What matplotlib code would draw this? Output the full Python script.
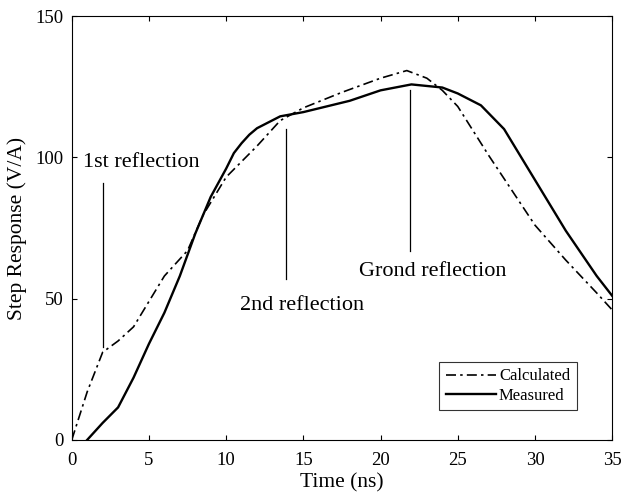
import matplotlib.pyplot as plt

plt.rcParams['font.family'] = ['Liberation Serif', 'DejaVu Serif']

# data
calc_t = [0, 1, 2, 3, 4, 5, 6, 7.5, 8.5, 10, 12, 13.5, 15, 17.5, 20, 21.7, 23, 24, 25, 27, 30, 32, 34, 35]
calc_v = [0, 17, 31, 35, 40, 49, 58, 67, 79.5, 93, 104, 113, 117.5, 123, 128, 130.7, 128, 123.7, 118, 100.7, 76, 63.6, 52, 46]
meas_t = [1, 2, 3, 4, 5, 6, 7, 8, 9, 10, 10.5, 11, 11.5, 12, 13.5, 15, 18, 20, 22, 24, 25, 26.5, 28, 30, 32, 34, 35]
meas_v = [0, 6, 11.5, 22, 34, 45, 58, 73, 86, 96, 101.5, 105, 108, 110.3, 114.5, 116, 120, 123.7, 125.8, 124.7, 122.6, 118.4, 110, 92, 74, 58, 51]

labels = ['1st reflection', '2nd reflection', 'Grond reflection']
mark_x = [2, 13.85, 21.9]
mark_top = [91, 110, 123.7]
mark_bot = [33, 57, 67]
text_xy = [(0.7, 96.5), (10.9, 46), (18.6, 58)]

fig = plt.figure(figsize=(6.24, 5.01), dpi=100)
ax = fig.add_axes([0.115, 0.122, 0.866, 0.846])

ax.plot(calc_t, calc_v, 'k-.', lw=1.2, dashes=(6, 2.5, 1.5, 2.5), label='Calculated')
ax.plot(meas_t, meas_v, 'k-', lw=1.7, label='Measured')

for i in range(len(labels)):
    ax.plot([mark_x[i], mark_x[i]], [mark_bot[i], mark_top[i]], 'k-', lw=0.9)
    ax.text(text_xy[i][0], text_xy[i][1], labels[i], fontsize=16)

ax.set_xlim(0, 35)
ax.set_ylim(0, 150)
ax.set_xticks([0, 5, 10, 15, 20, 25, 30, 35])
ax.set_yticks([0, 50, 100, 150])
ax.tick_params(direction='in', top=True, right=True, labelsize=13.5, pad=6)
ax.tick_params(axis='x', pad=9)
ax.set_xlabel('Time (ns)', fontsize=15.5, labelpad=3)
ax.set_ylabel('Step Response (V/A)', fontsize=15.5, labelpad=6)
leg = ax.legend(loc='lower right', bbox_to_anchor=(0.95, 0.05), fontsize=12, fancybox=False,
                edgecolor='black', handlelength=3.0, handletextpad=0.2, borderpad=0.4, labelspacing=0.2)
leg.get_frame().set_linewidth(0.8)

plt.savefig('out.png')
